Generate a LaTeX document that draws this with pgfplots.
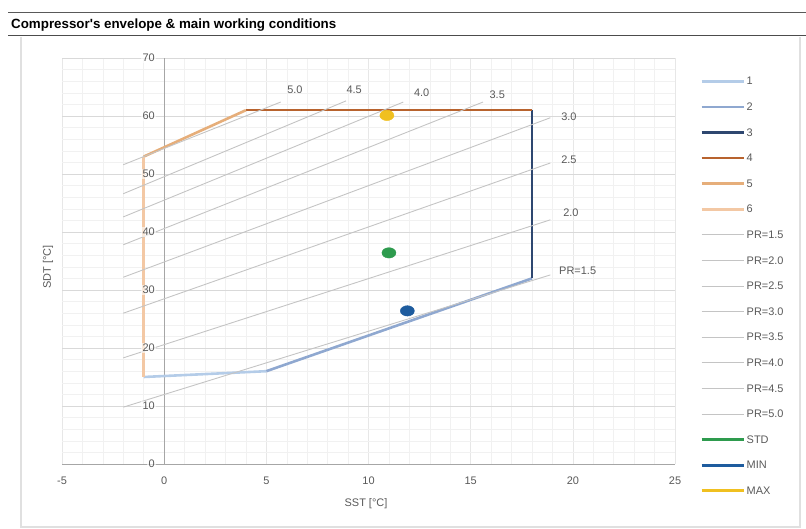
\documentclass[border=0pt]{standalone}
\usepackage{pgfplots}
\pgfplotsset{compat=1.18}
\usepackage{fontspec}
\setmainfont{Liberation Sans}

\definecolor{env1}{HTML}{B4CCE8}
\definecolor{env2}{HTML}{8FA8D0}
\definecolor{env3}{HTML}{2E4770}
\definecolor{env4}{HTML}{B8632E}
\definecolor{env5}{HTML}{E6AE7A}
\definecolor{env6}{HTML}{F3C8A4}
\definecolor{prline}{HTML}{C4C4C4}
\definecolor{stdc}{HTML}{2E9B4E}
\definecolor{minc}{HTML}{1E5C9E}
\definecolor{maxc}{HTML}{F0C020}
\definecolor{txt}{HTML}{595959}
\definecolor{gridmaj}{HTML}{D9D9D9}
\definecolor{gridmin}{HTML}{F1F1F1}
\definecolor{axline}{HTML}{A6A6A6}

\begin{document}
\begin{tikzpicture}[x=1bp,y=1bp]
\path[use as bounding box] (0,0) rectangle (806,529);
% header bar
\draw[line width=1.6bp, color=black!65] (8,516.5) -- (806,516.5);
\draw[line width=1bp, color=black!70] (8,493) -- (806,493);
\node[anchor=base west, inner sep=0pt, font=\bfseries\fontsize{13.4}{15}\selectfont]
  at (11,500) {Compressor\textquotesingle s envelope \& main working conditions};
% chart panel
\draw[black!12, line width=1.2bp] (21,492) -- (21,2) -- (800,2) -- (800,492);

\begin{axis}[
  scale only axis, width=613bp, height=406bp,
  at={(62bp,65bp)}, anchor=south west,
  xmin=-5, xmax=25, ymin=0, ymax=70,
  axis x line=bottom, axis y line=center,
  axis line style={draw=axline, line width=0.8bp, -},
  hide obscured x ticks=false, hide obscured y ticks=false,
  xtick={-5,0,5,10,15,20,25}, ytick={0,10,20,30,40,50,60,70},
  yticklabels={},
  minor x tick num=4, minor y tick num=4,
  major tick length=0pt, minor tick length=0pt,
  grid=both,
  major x grid style={draw=gridmin!60!gridmaj, line width=0.6bp},
  major y grid style={draw=gridmaj, line width=0.8bp},
  minor grid style={draw=gridmin, line width=0.5bp},
  tick label style={font=\fontsize{11}{13}\selectfont, text=txt},
  xticklabel style={yshift=-9bp},
  /pgf/number format/assume math mode=true,
  legend style={at={(rel axis cs:1.0408,0.955)}, anchor=north west,
    draw=none, fill=none, font=\fontsize{11}{13}\selectfont, text=txt,
    row sep=14.1bp, inner sep=0pt, column sep=1bp,
    nodes={inner sep=0.5bp, text height=8bp, text depth=2.5bp}},
  legend cell align=left,
  legend image code/.code={\draw[#1] (0bp,1bp) -- (42bp,1bp);},
  clip=false,
]
% operating points (drawn beneath the envelope)
\addplot[forget plot, only marks, mark=*, color=stdc,
  mark options={xscale=1.35}, mark size=5.2bp] coordinates {(11.0,36.4)};
\addplot[forget plot, only marks, mark=*, color=minc,
  mark options={xscale=1.35}, mark size=5.2bp] coordinates {(11.9,26.4)};
\addplot[forget plot, only marks, mark=*, color=maxc,
  mark options={xscale=1.35}, mark size=5.2bp] coordinates {(10.9,60.1)};

% envelope segments
\addplot[env1, line width=2.6bp, no marks] coordinates {(-1,15) (5,16)};
\addlegendentry{1}
\addplot[env2, line width=2.6bp, no marks] coordinates {(5,16) (18,32)};
\addlegendentry{2}
\addplot[env3, line width=2.6bp, no marks] coordinates {(18,32) (18,61)};
\addlegendentry{3}
\addplot[env4, line width=2.6bp, no marks] coordinates {(18,61) (4,61)};
\addlegendentry{4}
\addplot[env5, line width=2.6bp, no marks] coordinates {(4,61) (-1,53)};
\addlegendentry{5}
\addplot[env6, line width=2.6bp, no marks] coordinates {(-1,53) (-1,15)};
\addlegendentry{6}

% pressure ratio lines
\addplot[prline, line width=0.9bp, no marks] coordinates {(-2,9.8) (18.9,32.6)};
\addlegendentry{PR=1.5}
\addplot[prline, line width=0.9bp, no marks] coordinates {(-2,18.3) (18.9,42.1)};
\addlegendentry{PR=2.0}
\addplot[prline, line width=0.9bp, no marks] coordinates {(-2,26.0) (18.9,51.9)};
\addlegendentry{PR=2.5}
\addplot[prline, line width=0.9bp, no marks] coordinates {(-2,32.2) (18.9,59.7)};
\addlegendentry{PR=3.0}
\addplot[prline, line width=0.9bp, no marks] coordinates {(-2,37.8) (15.6,62.4)};
\addlegendentry{PR=3.5}
\addplot[prline, line width=0.9bp, no marks] coordinates {(-2,42.6) (11.7,62.4)};
\addlegendentry{PR=4.0}
\addplot[prline, line width=0.9bp, no marks] coordinates {(-2,46.6) (8.9,62.6)};
\addlegendentry{PR=4.5}
\addplot[prline, line width=0.9bp, no marks] coordinates {(-2,51.6) (5.7,62.4)};
\addlegendentry{PR=5.0}

\addlegendimage{stdc, line width=3bp}
\addlegendentry{STD}
\addlegendimage{minc, line width=3bp}
\addlegendentry{MIN}
\addlegendimage{maxc, line width=3bp}
\addlegendentry{MAX}

% SDT tick labels, set over the series next to the vertical axis
\pgfplotsinvokeforeach{0,10,20,30,40,50,60,70}{
  \node[anchor=east, xshift=-8bp, font=\fontsize{11}{13}\selectfont, text=txt,
    fill=white, fill opacity=0.6, text opacity=1, inner sep=1.2bp]
    at (axis cs:0,#1) {#1};
}

% pressure ratio labels
\begin{scope}[every node/.style={font=\fontsize{11}{13}\selectfont, text=txt, inner sep=0.5bp}]
\node at (axis cs:6.4,64.6) {5.0};
\node at (axis cs:9.3,64.6) {4.5};
\node at (axis cs:12.6,64.0) {4.0};
\node at (axis cs:16.3,63.6) {3.5};
\node[anchor=west] at (axis cs:19.4,59.8) {3.0};
\node[anchor=west] at (axis cs:19.4,52.4) {2.5};
\node[anchor=west] at (axis cs:19.5,43.4) {2.0};
\node[anchor=west] at (axis cs:19.3,33.3) {PR=1.5};
\end{scope}
\end{axis}

% axis titles
\node[font=\fontsize{11}{13}\selectfont, text=txt] at (366,25) {SST [°C]};
\node[font=\fontsize{11}{13}\selectfont, text=txt, rotate=90] at (48,262) {SDT [°C]};
\end{tikzpicture}
\end{document}
